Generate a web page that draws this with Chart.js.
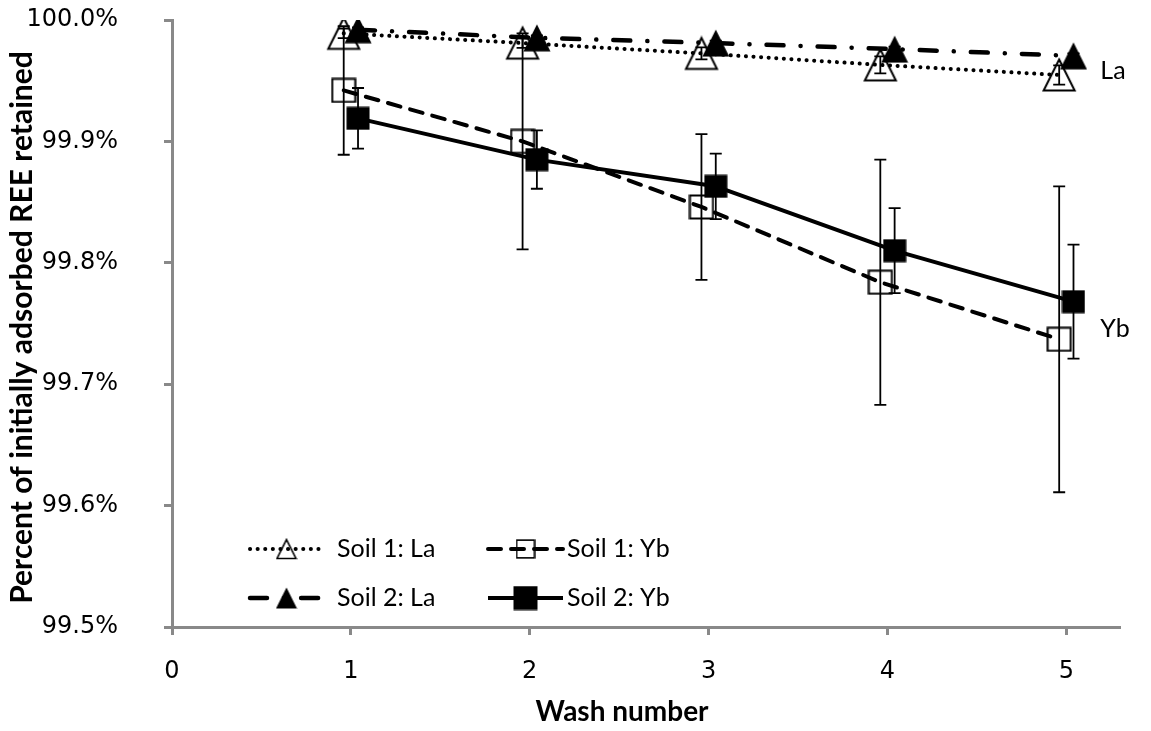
<!DOCTYPE html>
<html>
<head>
<meta charset="utf-8">
<script src="https://cdn.jsdelivr.net/npm/chart.js@4.4.1/dist/chart.umd.min.js"></script>
<style>
  html, body { margin: 0; padding: 0; background: #ffffff; }
  #wrap { width: 1151px; height: 731px; }
</style>
</head>
<body>
<div id="wrap"><canvas id="chart" width="1151" height="731"></canvas></div>
<script>
// Wash experiment: share of initially adsorbed REE still retained after each wash
const washNumbers = [1, 2, 3, 4, 5];
const xTicks = [0, 1, 2, 3, 4, 5];
const yTicks = [99.5, 99.6, 99.7, 99.8, 99.9, 100.0];

const soil1La = [99.989, 99.981, 99.9725, 99.963, 99.9547];
const soil1LaErr = [0.004, 0.004, 0.005, 0.007, 0.008];
const soil1Yb = [99.942, 99.900, 99.846, 99.784, 99.737];
const soil1YbErr = [0.053, 0.089, 0.060, 0.101, 0.126];
const soil2La = [99.992, 99.9853, 99.981, 99.976, 99.9705];
const soil2LaErr = [0.002, 0.002, 0.002, 0.002, 0.002];
const soil2Yb = [99.919, 99.885, 99.863, 99.810, 99.768];
const soil2YbErr = [0.025, 0.024, 0.027, 0.035, 0.047];

const seriesNames = ['Soil 1: La', 'Soil 1: Yb', 'Soil 2: La', 'Soil 2: Yb'];
const elementLabels = ['La', 'Yb'];

// soil 1 and soil 2 are nudged apart horizontally so their bars do not overlap
const JITTER = 0.04;
const AXIS_GREY = '#898989';
const TEXT_FONT = 'Lato, "Open Sans", sans-serif';
const TICK_FONT = '"DejaVu Sans", Verdana, sans-serif';

function marker(shape, filled, scale) {
  const s = scale || 1;
  const size = Math.round((shape === 'triangle' ? (filled ? 28 : 36) : (filled ? 24 : 26)) * s);
  const c = document.createElement('canvas');
  c.width = size; c.height = size;
  const g = c.getContext('2d');
  g.fillStyle = '#000';
  g.strokeStyle = '#000';
  g.lineWidth = 2 * Math.max(0.8, s);
  g.lineJoin = 'miter';
  if (shape === 'triangle') {
    const m = filled ? 0.5 : 2.5 * s;
    g.beginPath();
    g.moveTo(size / 2, m);
    g.lineTo(size - m, size - m);
    g.lineTo(m, size - m);
    g.closePath();
    filled ? g.fill() : g.stroke();
  } else {
    if (filled) {
      g.fillRect(0.5, 0.5, size - 1, size - 1);
    } else {
      const m = 1.5 * s;
      g.strokeRect(m, m, size - 2 * m, size - 2 * m);
    }
  }
  return c;
}

function points(values, shift) {
  return washNumbers.map((w, i) => ({ x: w + shift, y: values[i] }));
}

const lineStyles = [
  { dash: [0.1, 7.5], cap: 'round', width: 4 },         // Soil 1: La dotted
  { dash: [13, 10], cap: 'round', width: 4 },            // Soil 1: Yb dashed
  { dash: [17, 17, 0.1, 17], cap: 'round', width: 4.5 }, // Soil 2: La dash-dot
  { dash: [], cap: 'butt', width: 4 }                    // Soil 2: Yb solid
];
const markers = [
  marker('triangle', false), marker('square', false),
  marker('triangle', true), marker('square', true)
];
const legendMarkers = [
  marker('triangle', false, 0.62), marker('square', false, 0.75),
  marker('triangle', true, 0.8), marker('square', true, 1.05)
];

const seriesValues = [soil1La, soil1Yb, soil2La, soil2Yb];
const seriesErrors = [soil1LaErr, soil1YbErr, soil2LaErr, soil2YbErr];
const seriesShift = [-JITTER, -JITTER, JITTER, JITTER];

const datasets = seriesNames.map((name, i) => ({
  label: name,
  data: points(seriesValues[i], seriesShift[i]),
  errors: seriesErrors[i],
  borderColor: '#000',
  backgroundColor: '#000',
  borderWidth: lineStyles[i].width,
  borderDash: lineStyles[i].dash,
  borderCapStyle: lineStyles[i].cap,
  borderJoinStyle: 'round',
  pointStyle: markers[i],
  pointRadius: 12,
  pointHoverRadius: 12,
  tension: 0,
  order: 4 - i
}));

const errorBars = {
  id: 'errorBars',
  afterDatasetsDraw(chart) {
    const { ctx, scales: { y } } = chart;
    ctx.save();
    ctx.strokeStyle = '#000';
    ctx.lineWidth = 1.8;
    chart.data.datasets.forEach((ds, i) => {
      const meta = chart.getDatasetMeta(i);
      ds.errors.forEach((e, j) => {
        const el = meta.data[j];
        const v = ds.data[j].y;
        const top = y.getPixelForValue(v + e);
        const bot = y.getPixelForValue(v - e);
        const x = el.x;
        ctx.beginPath();
        ctx.moveTo(x, top); ctx.lineTo(x, bot);
        ctx.moveTo(x - 6, top); ctx.lineTo(x + 6, top);
        ctx.moveTo(x - 6, bot); ctx.lineTo(x + 6, bot);
        ctx.stroke();
      });
    });
    ctx.restore();
  }
};

const annotations = {
  id: 'annotations',
  afterDraw(chart) {
    const { ctx, chartArea, scales: { x, y } } = chart;
    ctx.save();
    ctx.fillStyle = '#000';

    // axis titles
    ctx.textAlign = 'center';
    ctx.textBaseline = 'middle';
    ctx.font = 'bold 28px ' + TEXT_FONT;
    ctx.fillText('Wash number', 622, 712);
    ctx.save();
    ctx.font = 'bold 30px ' + TEXT_FONT;
    ctx.translate(22, (chartArea.top + chartArea.bottom) / 2 + 4);
    ctx.rotate(-Math.PI / 2);
    ctx.fillText('Percent of initially adsorbed REE retained', 0, 0);
    ctx.restore();

    // element tags beside the last wash
    ctx.font = '25px ' + TEXT_FONT;
    ctx.textAlign = 'left';
    const lastX = x.getPixelForValue(washNumbers[washNumbers.length - 1]) + 34;
    const n = washNumbers.length - 1;
    ctx.fillText(elementLabels[0], lastX, y.getPixelForValue((soil1La[n] + soil2La[n]) / 2) + 6);
    ctx.fillText(elementLabels[1], lastX, y.getPixelForValue((soil1Yb[n] + soil2Yb[n]) / 2) + 8);

    // legend: two columns, two rows
    const cols = [{ x0: 250, x1: 323, tx: 337 }, { x0: 488, x1: 563, tx: 567 }];
    const rows = [549, 598];
    chart.data.datasets.forEach((ds, i) => {
      const c = cols[i % 2];
      const r = rows[Math.floor(i / 2)];
      const st = lineStyles[i];
      ctx.save();
      ctx.strokeStyle = '#000';
      ctx.lineWidth = st.width;
      ctx.lineCap = st.cap;
      ctx.setLineDash(st.dash);
      ctx.beginPath();
      ctx.moveTo(c.x0, r); ctx.lineTo(c.x1, r);
      ctx.stroke();
      ctx.restore();
      const m = legendMarkers[i];
      const cx = (c.x0 + c.x1) / 2;
      ctx.drawImage(m, cx - m.width / 2, r - m.height / 2);
      ctx.font = '25px ' + TEXT_FONT;
      ctx.textAlign = 'left';
      ctx.textBaseline = 'middle';
      ctx.fillText(ds.label, c.tx, r);
    });
    ctx.restore();
  }
};

function squeeze(scale) {
  scale.paddingTop = 0; scale.paddingBottom = 0;
  scale.paddingLeft = 0; scale.paddingRight = 0;
}

new Chart(document.getElementById('chart'), {
  type: 'line',
  data: { datasets },
  plugins: [errorBars, annotations],
  options: {
    responsive: false,
    animation: false,
    events: [],
    layout: { padding: { top: 20, right: 31, left: 0, bottom: 0 } },
    plugins: { legend: { display: false }, tooltip: { enabled: false } },
    scales: {
      x: {
        type: 'linear',
        min: 0,
        max: 5.3,
        afterBuildTicks(scale) { scale.ticks = xTicks.map(v => ({ value: v })); },
        afterFit(scale) { scale.height = 104; squeeze(scale); },
        ticks: {
          font: { family: TICK_FONT, size: 24 },
          color: '#000',
          padding: 22,
          maxRotation: 0,
          callback: v => String(v)
        },
        grid: { drawOnChartArea: false, drawTicks: true, tickLength: 8, tickWidth: 3, tickColor: AXIS_GREY },
        border: { display: true, color: AXIS_GREY, width: 3 }
      },
      y: {
        type: 'linear',
        min: 99.5,
        max: 100,
        afterBuildTicks(scale) { scale.ticks = yTicks.map(v => ({ value: v })); },
        afterFit(scale) { scale.width = 172; squeeze(scale); },
        ticks: {
          font: { family: TICK_FONT, size: 24 },
          color: '#000',
          padding: 46,
          callback: v => Number(v).toFixed(1) + '%'
        },
        grid: { drawOnChartArea: false, drawTicks: true, tickLength: 8, tickWidth: 3, tickColor: AXIS_GREY },
        border: { display: true, color: AXIS_GREY, width: 3 }
      }
    }
  }
});
</script>
</body>
</html>
